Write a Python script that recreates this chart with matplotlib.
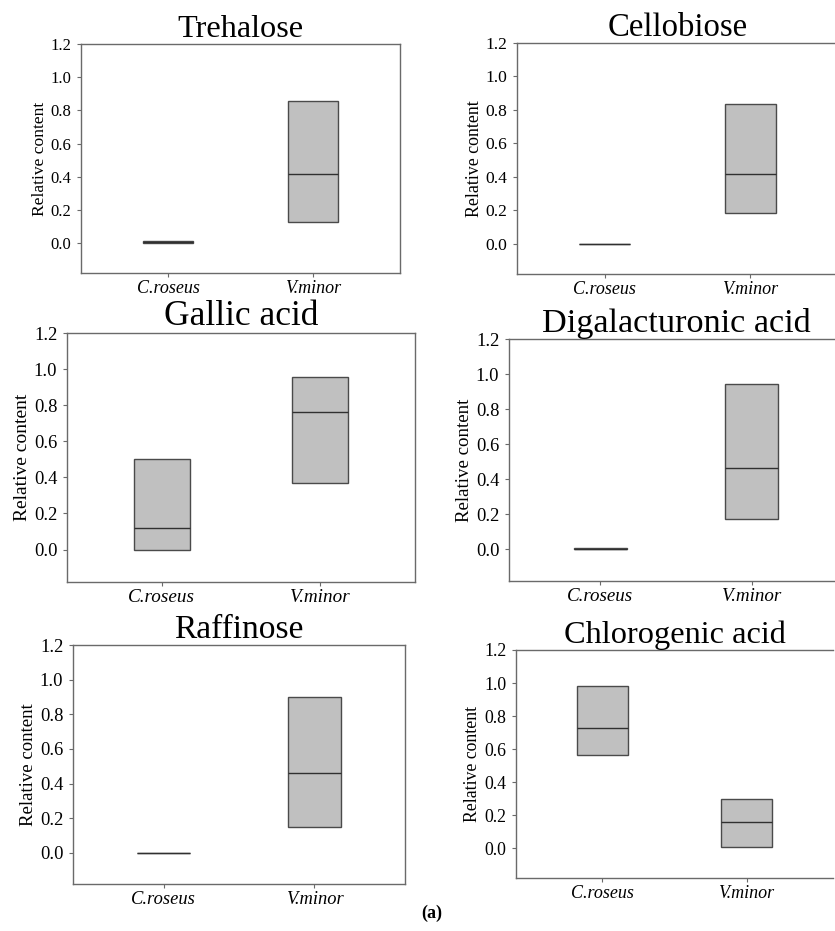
import matplotlib
matplotlib.use("Agg")
import matplotlib.pyplot as plt

plt.rcParams['font.family'] = ['Liberation Serif', 'DejaVu Serif']

# Species on the x axis
species = ["C.roseus", "V.minor"]

# Compound names (panel titles)
compounds = ["Trehalose", "Cellobiose", "Gallic acid",
             "Digalacturonic acid", "Raffinose", "Chlorogenic acid"]

# Box statistics per compound: [C.roseus, V.minor]
q1 = [[0.000, 0.130], [0.000, 0.185], [0.000, 0.370],
      [0.000, 0.171], [0.000, 0.152], [0.565, 0.006]]
median = [[0.005, 0.418], [0.000, 0.418], [0.122, 0.763],
          [0.005, 0.467], [0.000, 0.459], [0.726, 0.159]]
q3 = [[0.010, 0.855], [0.000, 0.834], [0.499, 0.957],
      [0.010, 0.941], [0.000, 0.898], [0.984, 0.296]]

yticks = [0.0, 0.2, 0.4, 0.6, 0.8, 1.0, 1.2]

W, H = 835, 931
fig = plt.figure(figsize=(W / 100, H / 100), dpi=100)

# panel boxes in pixels: left, top, right, bottom
boxes = [(81, 44, 400, 273), (517, 43, 838, 274),
         (67, 333, 415, 582), (509, 339, 843, 581),
         (73, 645, 405, 884), (516, 650, 833, 878)]
# font sizes: title, ylabel, y ticks, x ticks
sizes = [(23.2, 12.6, 12.0, 13.0), (23.6, 12.9, 12.6, 13.0),
         (25.5, 14.0, 13.3, 13.8), (24.7, 13.6, 13.3, 13.7),
         (24.1, 13.5, 13.3, 13.3), (23.3, 12.8, 12.8, 13.0)]

spine_col = '#6a6a6a'

for i, name in enumerate(compounds):
    l, t, r, b = boxes[i]
    ax = fig.add_axes([l / W, 1 - b / H, (r - l) / W, (b - t) / H])
    fs_title, fs_ylab, fs_ytick, fs_xtick = sizes[i]

    stats = []
    for j, sp in enumerate(species):
        stats.append(dict(label=sp, med=median[i][j], q1=q1[i][j], q3=q3[i][j],
                          whislo=q1[i][j], whishi=q3[i][j], fliers=[]))
    ax.bxp(stats, positions=[1, 2], widths=0.35, patch_artist=True,
           showcaps=False, showfliers=False,
           boxprops=dict(facecolor='#c0c0c0', edgecolor='#4a4a4a', linewidth=1.0),
           medianprops=dict(color='#303030', linewidth=1.0),
           whiskerprops=dict(linewidth=0))

    ax.set_xlim(0.4, 2.6)
    ax.set_ylim(-0.18, 1.2)
    ax.set_yticks(yticks)
    ax.set_yticklabels([f"{v:.1f}" for v in yticks], fontsize=fs_ytick)
    ax.set_xticks([1, 2])
    ax.set_xticklabels(species, fontsize=fs_xtick, style='italic')
    ax.tick_params(axis='y', length=3, width=0.8, color=spine_col, pad=4)
    ax.tick_params(axis='x', length=3, width=0.8, color=spine_col, pad=2)
    for s in ax.spines.values():
        s.set_color(spine_col)
        s.set_linewidth(1.0)
    if i % 2 == 1:
        ax.spines['right'].set_visible(False)
    ax.set_ylabel("Relative content", fontsize=fs_ylab, labelpad=2)
    ax.set_title(name, fontsize=fs_title, pad=5)

fig.text(432 / W, 1 - 913 / H, "(a)", ha='center', va='center',
         fontsize=13, fontweight='bold')

fig.savefig("out.png", dpi=100)
